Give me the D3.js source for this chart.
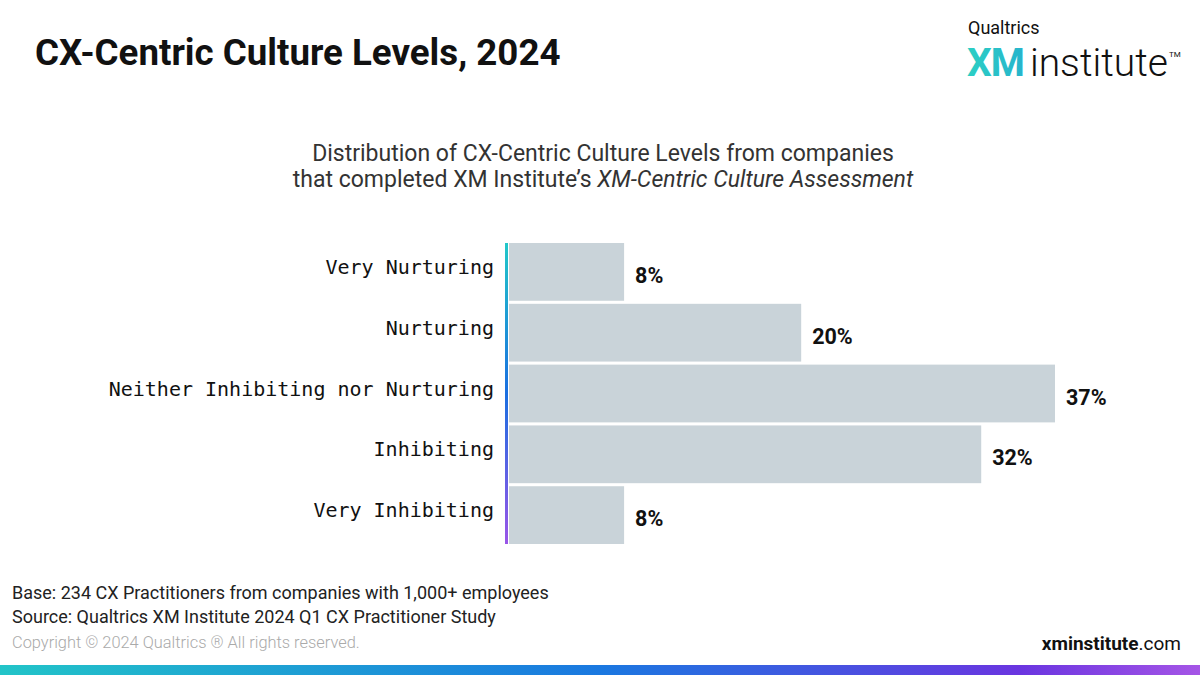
<!DOCTYPE html>
<html>
<head>
<meta charset="utf-8">
<script src="https://cdn.jsdelivr.net/npm/d3@7"></script>
<style>
  body { margin: 0; background: #fff; }
  svg { display: block; font-family: Roboto, "Noto Sans", sans-serif; }
</style>
</head>
<body>
<div id="chart"></div>
<script>
const categories = ["Very Nurturing", "Nurturing", "Neither Inhibiting nor Nurturing", "Inhibiting", "Very Inhibiting"];
const values = [7.8, 19.8, 37.0, 32.0, 7.8];
const valueLabels = ["8%", "20%", "37%", "32%", "8%"];

const W = 1200, H = 675;
const svg = d3.select("#chart").append("svg")
    .attr("width", W).attr("height", H);

const defs = svg.append("defs");
const axisGrad = defs.append("linearGradient")
    .attr("id", "axisGrad").attr("x1", 0).attr("y1", 0).attr("x2", 0).attr("y2", 1);
axisGrad.append("stop").attr("offset", "0%").attr("stop-color", "#22c7c9");
axisGrad.append("stop").attr("offset", "50%").attr("stop-color", "#1a6fe0");
axisGrad.append("stop").attr("offset", "100%").attr("stop-color", "#9a55e8");

const footGrad = defs.append("linearGradient")
    .attr("id", "footGrad").attr("x1", 0).attr("y1", 0).attr("x2", 1).attr("y2", 0);
footGrad.append("stop").attr("offset", "0%").attr("stop-color", "#22c4c8");
footGrad.append("stop").attr("offset", "50%").attr("stop-color", "#1a78e0");
footGrad.append("stop").attr("offset", "85%").attr("stop-color", "#6a35e0");
footGrad.append("stop").attr("offset", "100%").attr("stop-color", "#a555e6");

const xmGrad = defs.append("linearGradient")
    .attr("id", "xmGrad").attr("x1", 0).attr("y1", 0).attr("x2", 1).attr("y2", 0);
xmGrad.append("stop").attr("offset", "0%").attr("stop-color", "#2ccfc4");
xmGrad.append("stop").attr("offset", "100%").attr("stop-color", "#1a6fe0");

// title
svg.append("text")
    .attr("x", 35).attr("y", 65)
    .style("font-size", "36.7px").style("font-weight", "700").style("fill", "#111")
    .text("CX-Centric Culture Levels, 2024");

// logo
svg.append("text").attr("x", 968).attr("y", 34)
    .style("font-size", "18px").style("fill", "#111").text("Qualtrics");
const logo = svg.append("text").attr("x", 967).attr("y", 76).style("font-size", "39px");
logo.append("tspan").style("font-weight", "700").style("fill", "url(#xmGrad)").style("letter-spacing", "-1px").text("XM");
logo.append("tspan").style("font-weight", "300").style("fill", "#111").attr("dx", 6).text("institute");
svg.append("text").attr("x", 1169).attr("y", 57)
    .style("font-size", "8px").style("fill", "#111").text("TM");

// subtitle
const sub = svg.append("text").attr("text-anchor", "middle")
    .style("font-size", "23px").style("fill", "#333");
sub.append("tspan").attr("x", 603).attr("y", 161)
    .text("Distribution of CX-Centric Culture Levels from companies");
const sub2 = sub.append("tspan").attr("x", 603).attr("y", 187);
sub2.append("tspan").text("that completed XM Institute\u2019s ");
sub2.append("tspan").style("font-style", "italic").text("XM-Centric Culture Assessment");

// chart
const x = d3.scaleLinear().domain([0, 37]).range([509, 1055]);
const y = d3.scaleBand().domain(categories).range([243, 544]).paddingInner(0.05).paddingOuter(0);

svg.selectAll(".bar")
    .data(categories)
    .enter().append("rect")
    .attr("class", "bar")
    .attr("x", x(0))
    .attr("y", d => y(d))
    .attr("width", (d, i) => x(values[i]) - x(0))
    .attr("height", y.bandwidth())
    .attr("fill", "#c9d3d9");

svg.selectAll(".val")
    .data(categories)
    .enter().append("text")
    .attr("class", "val")
    .attr("x", (d, i) => x(values[i]) + 11)
    .attr("y", d => y(d) + y.bandwidth() / 2 + 11)
    .style("font-size", "21.5px").style("font-weight", "700").style("fill", "#111")
    .text((d, i) => valueLabels[i]);

const yAxis = svg.append("g")
    .attr("transform", "translate(494,0)")
    .call(d3.axisLeft(y).tickSize(0).tickPadding(0));
yAxis.select(".domain").remove();
yAxis.selectAll("text")
    .attr("dy", "0.1em")
    .style("font-family", "'DejaVu Sans Mono', 'Liberation Mono', monospace")
    .style("font-size", "20px").style("fill", "#111");

svg.append("rect")
    .attr("x", 505).attr("y", 243).attr("width", 3).attr("height", 301)
    .attr("fill", "url(#axisGrad)");

// footer
svg.append("text").attr("x", 12).attr("y", 599)
    .style("font-size", "18px").style("fill", "#222")
    .text("Base: 234 CX Practitioners from companies with 1,000+ employees");
svg.append("text").attr("x", 12).attr("y", 623)
    .style("font-size", "18px").style("fill", "#222")
    .text("Source: Qualtrics XM Institute 2024 Q1 CX Practitioner Study");
svg.append("text").attr("x", 12).attr("y", 648)
    .style("font-size", "16.4px").style("font-weight", "300").style("fill", "#aaa")
    .text("Copyright \u00a9 2024 Qualtrics \u00ae All rights reserved.");

const site = svg.append("text").attr("x", 1181).attr("y", 650).attr("text-anchor", "end")
    .style("font-size", "19px").style("fill", "#111");
site.append("tspan").style("font-weight", "700").text("xminstitute");
site.append("tspan").style("font-weight", "400").text(".com");

svg.append("rect").attr("x", 0).attr("y", 665).attr("width", W).attr("height", 10)
    .attr("fill", "url(#footGrad)");
</script>
</body>
</html>
